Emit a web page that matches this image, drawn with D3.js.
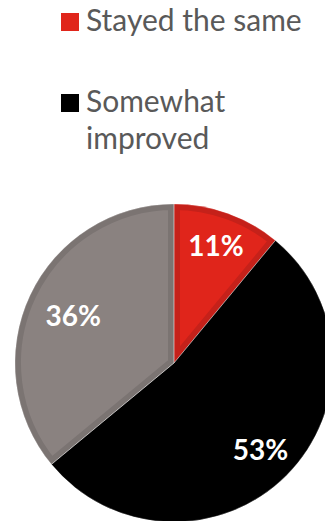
<!DOCTYPE html>
<html>
<head>
<meta charset="utf-8">
<script src="https://cdn.jsdelivr.net/npm/d3@7"></script>
<style>
  html, body { margin: 0; padding: 0; background: #fff; overflow: hidden; }
  svg { display: block; }
</style>
</head>
<body>
<div id="chart"></div>
<script>
// ── Data ──
const categories = ['Stayed the same', 'Somewhat improved', 'Other'];
const values = [11, 53, 36];
const sliceColors = ['#e0251b', '#000000', '#8a8280'];
const edgeColors = ['#c5211a', '#000000', '#7b7472'];
const legendItems = ['Stayed the same', 'Somewhat improved'];
const legendLines = [['Stayed the same'], ['Somewhat', 'improved']];

const W = 325, H = 521;
const CX = 174, CY = 363, R = 159;

const svg = d3.select('#chart').append('svg')
  .attr('width', W)
  .attr('height', H)
  .style('font-family', 'Lato, "Open Sans", sans-serif');

// ── Legend ──
const legendY = [13, 94];
const legend = svg.selectAll('.legend')
  .data(legendItems)
  .enter()
  .append('g')
  .attr('class', 'legend')
  .attr('transform', (d, i) => `translate(61,${legendY[i]})`);

legend.append('rect')
  .attr('width', 18)
  .attr('height', 18)
  .attr('fill', (d, i) => sliceColors[categories.indexOf(d)]);

legend.each(function (d, i) {
  const t = d3.select(this).append('text')
    .attr('fill', '#595959')
    .attr('font-size', '30px');
  legendLines[i].forEach((line, j) => {
    t.append('tspan')
      .attr('x', 25)
      .attr('y', 18 + j * 37)
      .text(line);
  });
});

// ── Pie ──
const pie = d3.pie().sort(null).value(d => d.value);
const arc = d3.arc().innerRadius(0).outerRadius(R);
const arcs = pie(categories.map((c, i) => ({ name: c, value: values[i], i })));

const g = svg.append('g').attr('transform', `translate(${CX},${CY})`);
const defs = svg.append('defs');

arcs.forEach((a, k) => {
  defs.append('clipPath')
    .attr('id', `clip${k}`)
    .append('path')
    .attr('d', arc(a));
});

g.selectAll('.slice')
  .data(arcs)
  .enter()
  .append('path')
  .attr('class', 'slice')
  .attr('d', arc)
  .attr('fill', d => sliceColors[d.data.i])
  .attr('stroke', d => edgeColors[d.data.i])
  .attr('stroke-width', 12)
  .attr('clip-path', (d, k) => `url(#clip${k})`);

// slice separators
g.selectAll('.sep')
  .data(arcs)
  .enter()
  .append('path')
  .attr('d', arc)
  .attr('fill', 'none')
  .attr('stroke', '#ffffff')
  .attr('stroke-opacity', 0.3)
  .attr('stroke-width', 1);

// ── Labels ──
const labelR = [0.78, 0.77, 0.7];
g.selectAll('.label')
  .data(arcs)
  .enter()
  .append('text')
  .attr('transform', d => {
    const mid = (d.startAngle + d.endAngle) / 2;
    const r = R * labelR[d.data.i];
    return `translate(${Math.sin(mid) * r},${-Math.cos(mid) * r})`;
  })
  .attr('text-anchor', 'middle')
  .attr('dy', '0.36em')
  .attr('fill', '#ffffff')
  .attr('font-size', '28px')
  .attr('font-weight', '700')
  .text(d => d.data.value + '%');
</script>
</body>
</html>
